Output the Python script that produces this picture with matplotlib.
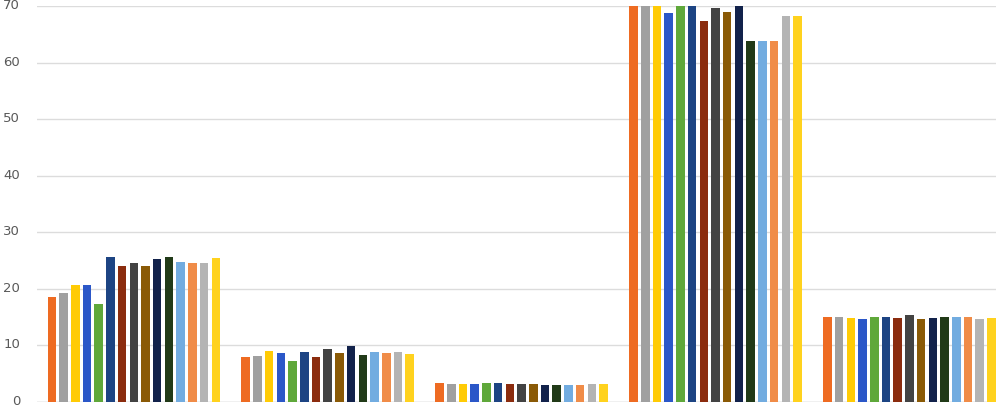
import matplotlib
matplotlib.use("Agg")
import matplotlib.pyplot as plt
import matplotlib.transforms as mtransforms
import numpy as np

categories = ["A", "B", "C", "D", "E"]
series_colors = ["#EE6B22", "#A0A0A0", "#FFCB05", "#2B57C8", "#5FA83A",
                 "#1D4483", "#8B2C0E", "#434343", "#8A5A06", "#12224B",
                 "#213A18", "#72ACE0", "#F08C48", "#B4B4B4", "#FFD21E"]

s01 = [18.6, 7.9, 3.3, 70.0, 15.0]
s02 = [19.3, 8.2, 3.2, 70.0, 15.0]
s03 = [20.7, 9.0, 3.2, 70.0, 14.8]
s04 = [20.6, 8.6, 3.1, 68.8, 14.7]
s05 = [17.3, 7.3, 3.3, 70.0, 15.0]
s06 = [25.7, 8.9, 3.3, 70.0, 15.0]
s07 = [24.0, 8.0, 3.1, 67.3, 14.8]
s08 = [24.6, 9.3, 3.1, 69.7, 15.3]
s09 = [24.0, 8.6, 3.1, 68.9, 14.7]
s10 = [25.2, 9.9, 3.0, 70.0, 14.8]
s11 = [25.7, 8.3, 3.0, 63.8, 15.0]
s12 = [24.8, 8.9, 3.0, 63.8, 15.0]
s13 = [24.6, 8.6, 3.0, 63.8, 15.0]
s14 = [24.5, 8.9, 3.1, 68.2, 14.7]
s15 = [25.5, 8.5, 3.1, 68.2, 14.8]
series = [s01, s02, s03, s04, s05, s06, s07, s08, s09, s10, s11, s12, s13, s14, s15]
yticks = [0, 10, 20, 30, 40, 50, 60, 70]

fig = plt.figure(figsize=(9.96, 4.07), dpi=100)
ax = fig.add_axes([0.037, 0.0123, 0.9734, 0.973])

x = np.arange(len(categories))
n = len(series)
pitch = 0.0604
width = 0.044
for i, (vals, col) in enumerate(zip(series, series_colors)):
    offs = (i - (n - 1) / 2) * pitch
    ax.bar(x + offs, vals, width=width, color=col, zorder=3)

ax.set_xlim(-0.5, len(categories) - 0.5)
ax.set_ylim(0, 70)
ax.set_yticks(yticks)
ax.set_yticklabels([str(t) for t in yticks])
ax.set_xticks([])
ax.grid(axis="y", color="#DCDCDC", linewidth=1.0, zorder=0)
for sp in ax.spines.values():
    sp.set_visible(False)
ax.axhline(0, color="#D0D0D0", linewidth=1.0, zorder=2)
ax.tick_params(axis="y", length=0, pad=12, labelsize=9.5, labelcolor="#595959")

offset = mtransforms.ScaledTranslation(0, 2 / 100, fig.dpi_scale_trans)
for lbl in ax.get_yticklabels():
    lbl.set_transform(lbl.get_transform() + offset)

fig.savefig("out.png", dpi=100)
